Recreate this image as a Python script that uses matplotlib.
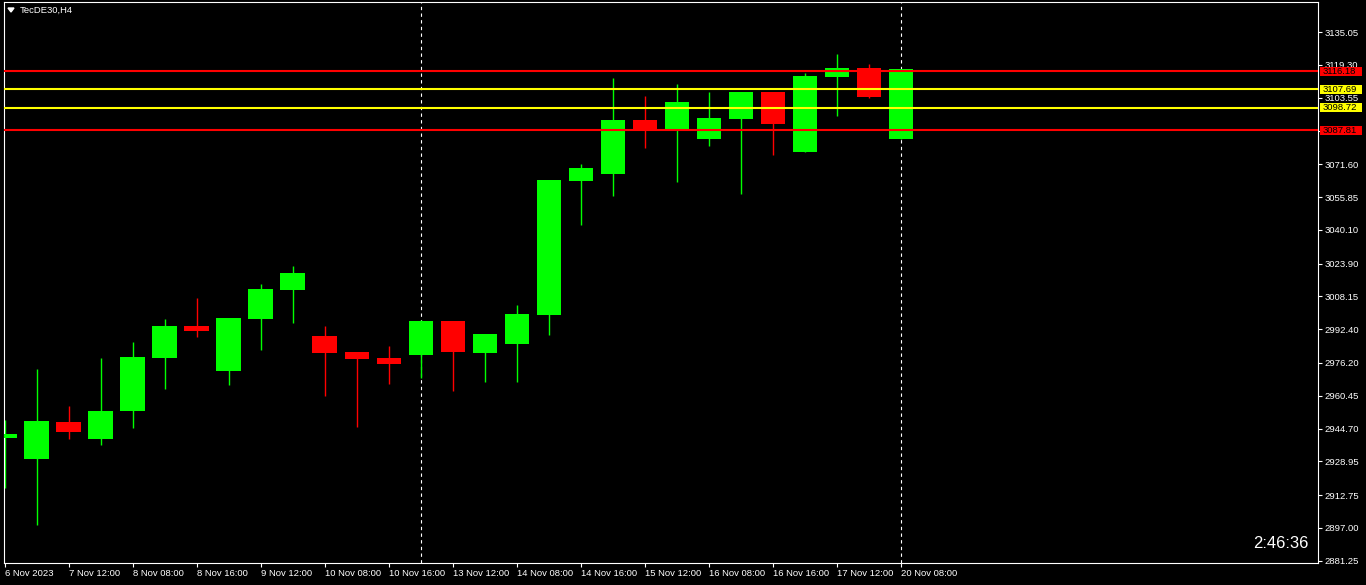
import numpy as np
import matplotlib
matplotlib.use('Agg')
import matplotlib.pyplot as plt
from matplotlib.patches import Rectangle

# ── Data ─────────────────────────────────────────────────────
opens  = [2940.3, 2930.2, 2947.9, 2939.8, 2953.3, 2978.7, 2994.0, 2972.5,
          2997.5, 3011.4, 2989.2, 2981.5, 2978.6, 2980.2, 2996.4, 2981.1,
          2985.5, 2999.4, 3063.7, 3067.1, 3092.9, 3087.7, 3083.9, 3093.5,
          3106.3, 3077.7, 3113.7, 3117.8, 3083.9]
highs  = [2948.8, 2973.3, 2955.5, 2978.6, 2986.3, 2997.3, 3007.4, 2998.0,
          3014.1, 3022.8, 2994.0, 2981.5, 2984.3, 2997.0, 2996.4, 2990.1,
          3004.0, 3064.1, 3071.7, 3113.0, 3104.4, 3110.2, 3106.3, 3106.3,
          3106.3, 3115.4, 3124.6, 3119.8, 3117.4]
lows   = [2916.3, 2898.5, 2939.8, 2937.0, 2945.1, 2963.8, 2988.8, 2965.8,
          2982.6, 2995.5, 2960.5, 2945.6, 2966.2, 2969.1, 2962.9, 2967.2,
          2967.2, 2989.8, 3042.6, 3056.5, 3079.6, 3063.2, 3080.5, 3057.5,
          3076.2, 3077.7, 3094.9, 3103.6, 3083.9]
closes = [2942.1, 2948.3, 2943.2, 2953.1, 2979.1, 2994.0, 2991.7, 2997.8,
          3011.7, 3019.4, 2981.1, 2978.1, 2975.9, 2996.4, 2981.6, 2990.1,
          2999.7, 3064.1, 3069.8, 3092.9, 3088.6, 3101.5, 3093.8, 3106.3,
          3091.1, 3114.0, 3117.8, 3104.1, 3117.4]

time_labels = ['6 Nov 2023', '7 Nov 12:00', '8 Nov 08:00', '8 Nov 16:00',
               '9 Nov 12:00', '10 Nov 08:00', '10 Nov 16:00', '13 Nov 12:00',
               '14 Nov 08:00', '14 Nov 16:00', '15 Nov 12:00', '16 Nov 08:00',
               '16 Nov 16:00', '17 Nov 12:00', '20 Nov 08:00']
label_every = 2

price_ticks = [2881.25, 2897.00, 2912.75, 2928.95, 2944.70, 2960.45, 2976.20,
               2992.40, 3008.15, 3023.90, 3040.10, 3055.85, 3071.60, 3087.80,
               3103.55, 3119.30, 3135.05]

red_levels    = [3116.18, 3087.81]
yellow_levels = [3107.69, 3098.72]
separators    = [13, 28]          # week separators (bar index)

# ── Style ────────────────────────────────────────────────────
BULL   = '#00FF00'
BEAR   = '#FF0000'
YELLOW = '#FFFF00'
FG     = 'white'
plt.rcParams['font.family'] = ['Liberation Sans', 'DejaVu Sans']

W, H = 1366, 585
fig = plt.figure(figsize=(W / 100, H / 100), dpi=100, facecolor='black')
ax = fig.add_axes([4 / W, 22 / H, (1318 - 4) / W, (563 - 2) / H])
ax.set_facecolor('black')

# ── Candles ──────────────────────────────────────────────────
x = np.arange(len(opens))
o, h, l, c = map(np.array, (opens, highs, lows, closes))
col = np.where(c >= o, BULL, BEAR)

ax.vlines(x, l, h, colors=col, linewidth=1.0, zorder=2)
body = np.maximum(np.abs(c - o), 0.8)
ax.bar(x, body, bottom=np.minimum(o, c), width=0.78, color=col,
       linewidth=0, zorder=3)

# ── Levels & separators ──────────────────────────────────────
for lv in red_levels:
    ax.axhline(lv, color=BEAR, linewidth=1.5, zorder=4)
for lv in yellow_levels:
    ax.axhline(lv, color=YELLOW, linewidth=1.5, zorder=4)
for s in separators:
    ax.axvline(s, color=FG, linewidth=0.8, linestyle=(0, (3, 3)), zorder=1)

# ── Axes ─────────────────────────────────────────────────────
ax.set_xlim(-0.03, 41.03)
ax.set_ylim(2880.15, 3149.5)

ax.set_xticks(x[::label_every][:len(time_labels)])
ax.set_xticklabels(time_labels, ha='left')
ax.yaxis.tick_right()
ax.set_yticks(price_ticks)
ax.set_yticklabels([f'{v:.2f}' for v in price_ticks])
ax.tick_params(colors=FG, labelsize=6.8, length=3, width=0.8, pad=1.5)
for sp in ax.spines.values():
    sp.set_color(FG)
    sp.set_linewidth(0.8)

# price labels on the scale (boxes ~42x9 px, hide the tick labels below)
px_w = 1314.0
box_h = 9 / (561 / (3149.5 - 2880.15))
for lv, fc in [(red_levels[0], BEAR), (yellow_levels[0], YELLOW),
               (yellow_levels[1], YELLOW), (red_levels[1], BEAR)]:
    ax.add_patch(Rectangle((1 + 2 / px_w, lv - box_h / 2), 42 / px_w, box_h,
                           transform=ax.get_yaxis_transform(), fc=fc,
                           ec='none', clip_on=False, zorder=9))
    ax.text(1 + 5 / px_w, lv, f'{lv:.2f}', transform=ax.get_yaxis_transform(),
            ha='left', va='center', fontsize=6.8, color='black',
            clip_on=False, zorder=10)

# ── Header & timer ───────────────────────────────────────────
fig.text(20 / W, 1 - 10 / H, 'TecDE30,H4', color=FG, fontsize=6.8,
         ha='left', va='center')
fig.patches.append(plt.Polygon([[8 / W, 1 - 8 / H], [14 / W, 1 - 8 / H],
                                [11 / W, 1 - 12 / H]], closed=True,
                               transform=fig.transFigure, color=FG))
fig.text(1308 / W, 1 - 544 / H, '2:46:36', color=FG, fontsize=12,
         ha='right', va='center')

fig.savefig('out.png', dpi=100, facecolor='black')
